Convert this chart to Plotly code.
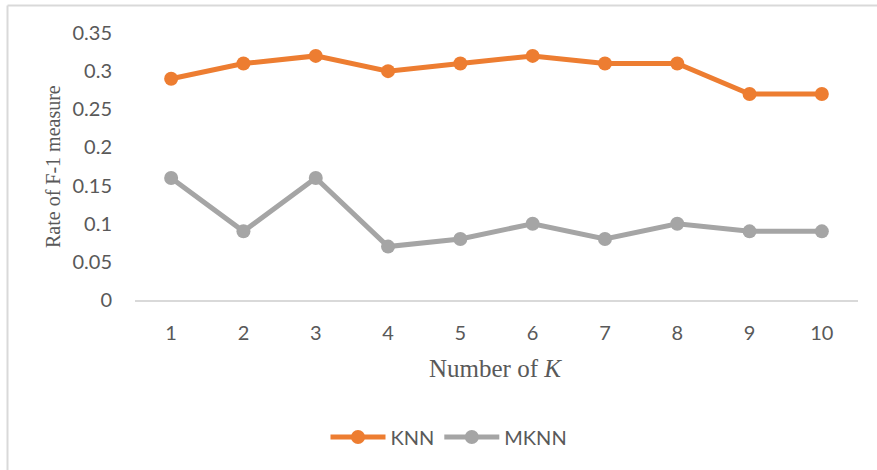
import plotly.graph_objects as go

# F-1 measure rates for each K
k_values = [1, 2, 3, 4, 5, 6, 7, 8, 9, 10]
knn_rate = [0.29, 0.31, 0.32, 0.30, 0.31, 0.32, 0.31, 0.31, 0.27, 0.27]
mknn_rate = [0.16, 0.09, 0.16, 0.07, 0.08, 0.10, 0.08, 0.10, 0.09, 0.09]
y_ticks = [0, 0.05, 0.1, 0.15, 0.2, 0.25, 0.3, 0.35]
y_tick_text = ["0", "0.05", "0.1", "0.15", "0.2", "0.25", "0.3", "0.35"]

W, H = 877, 470
L, R, T, B = 135, 19, 33, 170
pw, ph = W - L - R, H - T - B

def px(x):
    return (x - L) / pw

def py(y):
    return (H - B - y) / ph

TXT = "#595959"
TICK_FONT = dict(family="Lato, 'Open Sans', sans-serif", size=20, color=TXT)
SERIF = "'Liberation Serif', 'Times New Roman', serif"

fig = go.Figure()
fig.add_trace(go.Scatter(
    x=k_values, y=knn_rate, name="KNN", mode="lines+markers",
    line=dict(color="#ED7D31", width=5),
    marker=dict(color="#ED7D31", size=14),
))
fig.add_trace(go.Scatter(
    x=k_values, y=mknn_rate, name="MKNN", mode="lines+markers",
    line=dict(color="#A5A5A5", width=5),
    marker=dict(color="#A5A5A5", size=14),
))

fig.update_layout(
    width=W, height=H,
    margin=dict(l=L, r=R, t=T, b=B),
    paper_bgcolor="white", plot_bgcolor="white",
    showlegend=True,
    legend=dict(
        orientation="h", x=px(449), y=py(437), xanchor="center", yanchor="middle",
        font=TICK_FONT, itemwidth=55, tracegroupgap=0,
        bgcolor="rgba(0,0,0,0)",
    ),
    xaxis=dict(
        range=[0.5, 10.5], tickmode="array", tickvals=k_values,
        ticktext=[str(k) for k in k_values],
        showgrid=False, zeroline=False,
        showline=True, linecolor="#D9D9D9", linewidth=2,
        ticks="", tickfont=TICK_FONT, ticklabelstandoff=14,
        fixedrange=True,
    ),
    yaxis=dict(
        range=[0, 0.35], tickmode="array", tickvals=y_ticks, ticktext=y_tick_text,
        showgrid=False, zeroline=False, showline=False,
        ticks="", tickfont=TICK_FONT, ticklabelstandoff=22,
        fixedrange=True,
    ),
    annotations=[
        dict(text="Rate of F-1 measure", xref="paper", yref="paper",
             x=px(53), y=py(167), xanchor="center", yanchor="middle",
             textangle=-90, showarrow=False,
             font=dict(family=SERIF, size=20, color=TXT)),
        dict(text="Number of <i>K</i>", xref="paper", yref="paper",
             x=px(495), y=py(368), xanchor="center", yanchor="middle",
             showarrow=False,
             font=dict(family=SERIF, size=25, color=TXT)),
    ],
    shapes=[
        # chart frame: left and top edges
        dict(type="line", xref="paper", yref="paper",
             x0=px(7.5), x1=px(7.5), y0=py(5.5), y1=py(H + 2),
             line=dict(color="#D9D9D9", width=2)),
        dict(type="line", xref="paper", yref="paper",
             x0=px(7.5), x1=px(W + 2), y0=py(5.5), y1=py(5.5),
             line=dict(color="#D9D9D9", width=2)),
    ],
)

fig.write_html("out.html", config={"displayModeBar": False})
